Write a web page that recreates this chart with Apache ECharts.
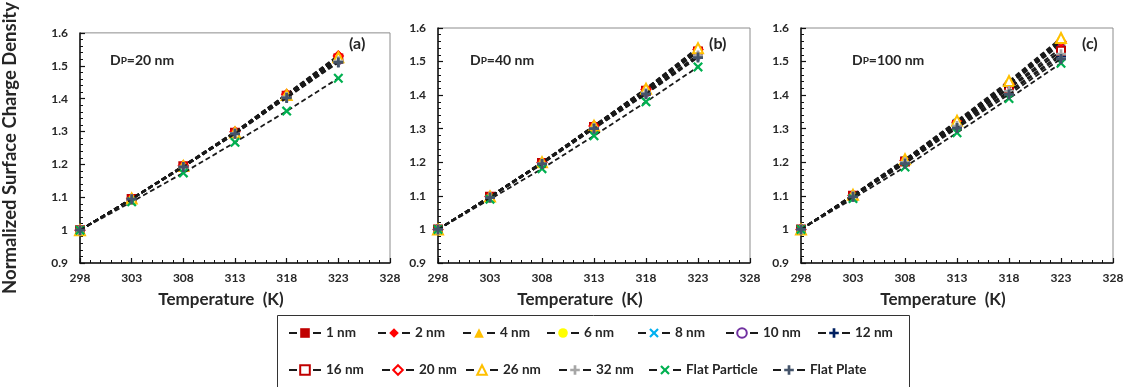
<!DOCTYPE html>
<html>
<head>
<meta charset="utf-8">
<script src="https://cdn.jsdelivr.net/npm/echarts@6/dist/echarts.min.js"></script>
<style>
  html, body { margin: 0; padding: 0; background: #fff; }
  #chart { width: 1132px; height: 387px; }
</style>
</head>
<body>
<div id="chart"></div>
<script>
// Temperatures (K) at which the surface charge density was evaluated
const temperatures = [298, 303, 308, 313, 318, 323];

// Series order: pore/particle sizes and the two flat references
const seriesNames = ['1 nm', '2 nm', '4 nm', '6 nm', '8 nm', '10 nm', '12 nm',
  '16 nm', '20 nm', '26 nm', '32 nm', 'Flat Particle', 'Flat Plate'];

// Normalized surface charge density, Dp = 20 nm (rows follow seriesNames)
const dp20Values = [
  [1, 1.095, 1.194, 1.296, 1.410, 1.525],
  [1, 1.096, 1.196, 1.299, 1.414, 1.532],
  [1, 1.096, 1.195, 1.298, 1.412, 1.528],
  [1, 1.095, 1.194, 1.297, 1.410, 1.524],
  [1, 1.095, 1.193, 1.296, 1.408, 1.520],
  [1, 1.094, 1.193, 1.295, 1.407, 1.517],
  [1, 1.094, 1.192, 1.293, 1.404, 1.512],
  [1, 1.095, 1.194, 1.296, 1.409, 1.522],
  [1, 1.096, 1.196, 1.299, 1.413, 1.530],
  [1, 1.096, 1.195, 1.297, 1.411, 1.526],
  [1, 1.094, 1.192, 1.294, 1.405, 1.514],
  [1, 1.086, 1.174, 1.267, 1.362, 1.462],
  [1, 1.094, 1.192, 1.293, 1.402, 1.510]
];

// Normalized surface charge density, Dp = 40 nm
const dp40Values = [
  [1, 1.097, 1.198, 1.306, 1.414, 1.532],
  [1, 1.098, 1.199, 1.308, 1.418, 1.538],
  [1, 1.098, 1.200, 1.309, 1.420, 1.542],
  [1, 1.097, 1.199, 1.307, 1.416, 1.535],
  [1, 1.097, 1.198, 1.305, 1.413, 1.528],
  [1, 1.096, 1.197, 1.303, 1.408, 1.520],
  [1, 1.095, 1.196, 1.301, 1.405, 1.516],
  [1, 1.097, 1.198, 1.305, 1.413, 1.530],
  [1, 1.098, 1.199, 1.308, 1.417, 1.536],
  [1, 1.098, 1.200, 1.309, 1.419, 1.540],
  [1, 1.096, 1.196, 1.302, 1.406, 1.518],
  [1, 1.090, 1.181, 1.279, 1.380, 1.484],
  [1, 1.095, 1.195, 1.300, 1.403, 1.512]
];

// Normalized surface charge density, Dp = 100 nm
const dp100Values = [
  [1, 1.100, 1.202, 1.312, 1.420, 1.530],
  [1, 1.101, 1.205, 1.318, 1.432, 1.558],
  [1, 1.102, 1.207, 1.321, 1.438, 1.566],
  [1, 1.102, 1.206, 1.320, 1.435, 1.562],
  [1, 1.101, 1.205, 1.317, 1.430, 1.552],
  [1, 1.100, 1.203, 1.314, 1.424, 1.540],
  [1, 1.098, 1.198, 1.306, 1.408, 1.516],
  [1, 1.100, 1.202, 1.312, 1.420, 1.532],
  [1, 1.101, 1.205, 1.319, 1.433, 1.560],
  [1, 1.103, 1.209, 1.324, 1.442, 1.570],
  [1, 1.099, 1.200, 1.308, 1.412, 1.522],
  [1, 1.092, 1.186, 1.288, 1.390, 1.495],
  [1, 1.097, 1.196, 1.302, 1.402, 1.508]
];

const panelValues = [dp20Values, dp40Values, dp100Values];
const panelTags = ['(a)', '(b)', '(c)'];
const panelDp = ['20 nm', '40 nm', '100 nm'];

// Axis ranges and tick steps
const xMin = 298, xMax = 328, xStep = 5;
const yMin = 0.9, yMax = 1.6, yStep = 0.1;

// Marker shapes
const SYM_X = 'path://M0,1.6 L1.6,0 L5,3.4 L8.4,0 L10,1.6 L6.6,5 L10,8.4 L8.4,10 L5,6.6 L1.6,10 L0,8.4 L3.4,5 Z';
const SYM_PLUS = 'path://M3.6,0 H6.4 V3.6 H10 V6.4 H6.4 V10 H3.6 V6.4 H0 V3.6 H3.6 Z';

const markerStyles = [
  { symbol: 'rect', color: '#C00000', size: 8, empty: false },
  { symbol: 'diamond', color: '#FF0000', size: 10, empty: false },
  { symbol: 'triangle', color: '#FFC000', size: 10, empty: false },
  { symbol: 'circle', color: '#FFFF00', size: 9, empty: false },
  { symbol: SYM_X, color: '#00B0F0', size: 9, empty: false },
  { symbol: 'emptyCircle', color: '#7030A0', size: 8, empty: true },
  { symbol: SYM_PLUS, color: '#002060', size: 10, empty: false },
  { symbol: 'emptyRect', color: '#C00000', size: 8, empty: true },
  { symbol: 'emptyDiamond', color: '#FF0000', size: 9, empty: true },
  { symbol: 'emptyTriangle', color: '#FFC000', size: 10, empty: true },
  { symbol: SYM_PLUS, color: '#A6A6A6', size: 10, empty: false },
  { symbol: SYM_X, color: '#00B050', size: 10, empty: false },
  { symbol: SYM_PLUS, color: '#44546A', size: 10, empty: false }
];

const FONT = 'Lato, "Liberation Sans", sans-serif';
const TEXT = '#262626';

const gridLefts = [78, 438, 801];
const gridTop = 28, gridW = 312, gridH = 235;

const grids = gridLefts.map(l => ({
  left: l, top: gridTop, width: gridW, height: gridH,
  show: true, borderColor: '#8c8c8c', borderWidth: 1, backgroundColor: 'transparent'
}));

const xAxes = gridLefts.map((l, i) => ({
  type: 'value', gridIndex: i, min: xMin, max: xMax, interval: xStep,
  axisLine: { show: true, onZero: false, lineStyle: { color: '#111', width: 1.5 } },
  axisTick: { show: true, inside: true, length: 5, lineStyle: { color: '#111', width: 1.2 } },
  minorTick: { show: true, splitNumber: 5, length: 3, lineStyle: { color: '#111', width: 1 } },
  splitLine: { show: false },
  axisLabel: { margin: 9, color: TEXT, fontSize: 12, fontWeight: 'bold', fontFamily: FONT },
  name: 'Temperature  (K)', nameLocation: 'middle', nameGap: 28,
  nameTextStyle: { color: TEXT, fontSize: 17, fontWeight: 'bold', fontFamily: FONT, padding: [0, 28, 0, 0] }
}));

const yAxes = gridLefts.map((l, i) => ({
  type: 'value', gridIndex: i, min: yMin, max: yMax, interval: yStep,
  axisLine: { show: true, onZero: false, lineStyle: { color: '#111', width: 1.5 } },
  axisTick: { show: true, inside: true, length: 5, lineStyle: { color: '#111', width: 1.2 } },
  minorTick: { show: true, splitNumber: 5, length: 3, lineStyle: { color: '#111', width: 1 } },
  splitLine: { show: false },
  axisLabel: {
    margin: 12, color: TEXT, fontSize: 12, fontWeight: 'bold', fontFamily: FONT,
    formatter: v => String(parseFloat(v.toFixed(2)))
  },
  name: i === 0 ? 'Normalized Surface Charge Density' : '',
  nameLocation: 'middle', nameGap: 60, nameRotate: 90,
  nameTextStyle: { color: TEXT, fontSize: 18.5, fontWeight: 'bold', fontFamily: FONT }
}));

const series = [];
panelValues.forEach((rows, p) => {
  rows.forEach((vals, k) => {
    const m = markerStyles[k];
    series.push({
      name: seriesNames[k], type: 'line', xAxisIndex: p, yAxisIndex: p,
      data: temperatures.map((t, j) => [t, vals[j]]),
      symbol: m.symbol, symbolSize: m.size, showSymbol: true,
      lineStyle: { color: '#1a1a1a', width: 1.8, type: [5, 3] },
      itemStyle: m.empty
        ? { color: m.color, borderColor: m.color, borderWidth: 2 }
        : { color: m.color, borderWidth: 0 },
      z: 2 + k, animation: false
    });
  });
});

// Legend: two rows inside a framed box
const legendRow1 = ['1 nm', '2 nm', '4 nm', '6 nm', '8 nm', '10 nm', '12 nm'];
const legendRow2 = ['16 nm', '20 nm', '26 nm', '32 nm', 'Flat Particle', 'Flat Plate'];
const legendRow1Left = [288, 377, 462, 546, 637, 725, 817];
const legendRow2Left = [288, 381, 465, 558, 648, 772];
const legendRowTop = [326, 363];

const legends = [];
[[legendRow1, legendRow1Left], [legendRow2, legendRow2Left]].forEach(([names, lefts], r) => {
  names.forEach((n, i) => {
    legends.push({
      data: [n], left: lefts[i], top: legendRowTop[r], padding: 0,
      itemWidth: 32, itemHeight: 12, itemGap: 0, selectedMode: false,
      lineStyle: { color: '#1a1a1a', width: 2, type: [8, 16] },
      textStyle: { color: TEXT, fontSize: 13.5, fontWeight: 'bold', fontFamily: FONT }
    });
  });
});

const graphics = [
  { type: 'rect', left: 275, top: 313, shape: { width: 632, height: 73 },
    style: { fill: 'none', stroke: '#333', lineWidth: 1 }, silent: true }
];
const tagLefts = [349, 709, 1082];
const dpLefts = [110, 470, 852];
panelTags.forEach((t, i) => {
  graphics.push({
    type: 'text', left: tagLefts[i], top: 36,
    style: { text: t, fill: TEXT, font: 'bold 16px ' + FONT }
  });
  graphics.push({
    type: 'text', left: dpLefts[i], top: 53,
    style: {
      text: '{d|D}{p|P}{d|=' + panelDp[i] + '}',
      rich: {
        d: { fontSize: 14, fontWeight: 'bold', fontFamily: FONT, fill: TEXT, verticalAlign: 'bottom' },
        p: { fontSize: 10, fontWeight: 'bold', fontFamily: FONT, fill: TEXT, verticalAlign: 'bottom', padding: [0, 0, 1, 0] }
      }
    }
  });
});

const chart = echarts.init(document.getElementById('chart'), null, { renderer: 'canvas' });
chart.setOption({
  animation: false,
  backgroundColor: '#fff',
  grid: grids,
  xAxis: xAxes,
  yAxis: yAxes,
  legend: legends,
  graphic: graphics,
  series: series
});
</script>
</body>
</html>
